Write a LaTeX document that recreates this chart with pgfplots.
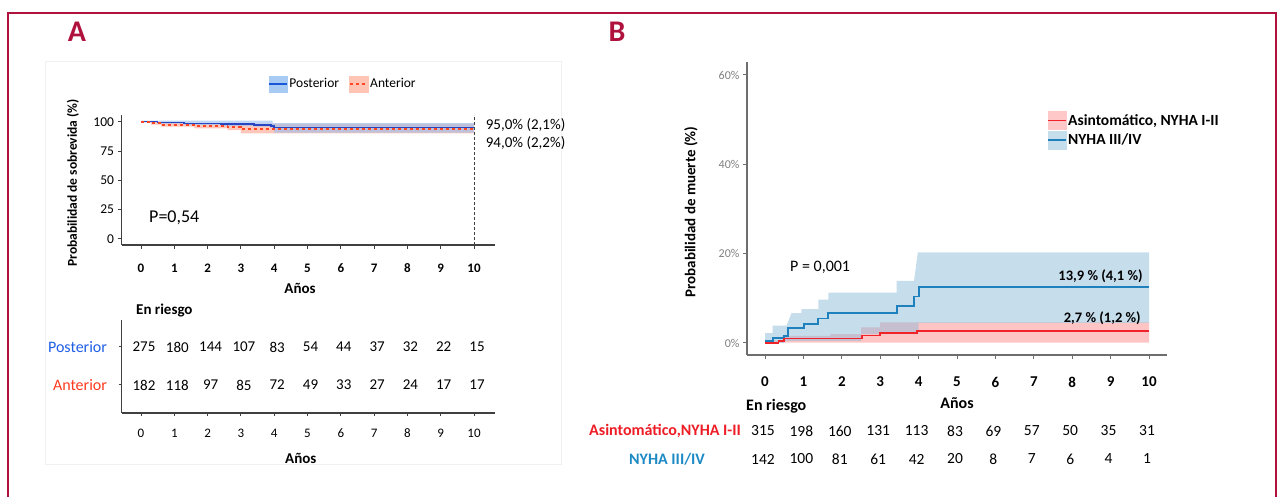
\documentclass[border=0pt]{standalone}
\usepackage{fontspec}
\setmainfont{Carlito}
\usepackage{pgfplots}
\pgfplotsset{compat=1.18}
\definecolor{framecol}{RGB}{176,18,62}
\definecolor{axgray}{RGB}{64,64,64}
\definecolor{Baxgray}{RGB}{110,110,110}
\definecolor{Ablue}{RGB}{40,70,195}
\definecolor{Ablueband}{RGB}{150,190,240}
\definecolor{Ared}{RGB}{255,70,35}
\definecolor{Aredband}{RGB}{255,160,140}
\definecolor{legAblueband}{RGB}{168,203,243}
\definecolor{legAblue}{RGB}{26,86,216}
\definecolor{legAredband}{RGB}{255,196,180}
\definecolor{Postlab}{RGB}{30,95,230}
\definecolor{Antlab}{RGB}{255,58,31}
\definecolor{Bblue}{RGB}{31,128,190}
\definecolor{Bblueband}{RGB}{141,187,217}
\definecolor{Bred}{RGB}{240,35,42}
\definecolor{Bredband}{RGB}{255,150,150}
\definecolor{legBredband}{RGB}{255,200,200}
\definecolor{legBblueband}{RGB}{198,221,236}
\definecolor{Bredlab}{RGB}{238,28,37}
\definecolor{Bbluelab}{RGB}{28,138,196}
\begin{document}
\begin{tikzpicture}
\useasboundingbox (0pt,0pt) rectangle (1279pt,497pt);
\draw[black!6, line width=1pt] (45pt,435pt) rectangle (561pt,32pt);
\draw[framecol, line width=2.5pt] (8pt,-10pt) -- (8pt,484pt) -- (1276pt,484pt) -- (1276pt,-10pt);
\node[font=\fontsize{30}{32}\selectfont\bfseries, text=framecol] at (77pt,465pt) {A};
\node[font=\fontsize{30}{32}\selectfont\bfseries, text=framecol] at (617pt,465pt) {B};

% ---------------- Panel A : survival curves
\begin{axis}[
  at={(121.5pt,252pt)}, anchor=south west, scale only axis,
  width=373.5pt, height=130pt,
  xmin=-0.5856, xmax=10.63, ymin=-5.115, ymax=105.7,
  axis lines*=left, axis line style={axgray, line width=1.2pt},
  tick align=outside, major tick length=4pt, tick style={axgray, line width=1pt},
  xtick={0,...,10}, ytick={0,25,50,75,100},
  /pgf/number format/assume math mode=true,
  xticklabel style={font=\fontsize{13}{15}\selectfont\bfseries, anchor=center, yshift=-19pt},
  yticklabel style={font=\fontsize{13.5}{15}\selectfont},
  xlabel={Años},
  xlabel style={at={(axis description cs:0.478,-0.331)}, anchor=center, font=\fontsize{15}{17}\selectfont\bfseries},
  ylabel={Probabilidad de sobrevida (\%)},
  ylabel style={at={(axis description cs:-0.13,0.477)}, anchor=center, font=\fontsize{13.5}{15}\selectfont\bfseries},
  clip=false,
  legend columns=2,
  legend style={draw=none, fill=none, at={(axis description cs:0.392,1.238)}, anchor=west,
    font=\fontsize{13.5}{15}\selectfont, inner sep=0pt, nodes={inner sep=1.5pt},
    /tikz/every even column/.append style={column sep=8pt}},
]
\addlegendimage{legend image code/.code={\fill[legAblueband] (0pt,-8pt) rectangle (18pt,8pt); \draw[legAblue, line width=1.8pt] (0pt,0pt) -- (18pt,0pt);}}
\addlegendentry{Posterior}
\addlegendimage{legend image code/.code={\fill[legAredband] (0pt,-8pt) rectangle (19pt,8pt); \draw[Ared, line width=1.8pt, dash pattern=on 3pt off 3pt] (1pt,0pt) -- (19pt,0pt);}}
\addlegendentry{Anterior}
% red band (Anterior)
\addplot[draw=none, fill=Aredband, fill opacity=0.6, forget plot] coordinates {
 (0,100) (0.3,100) (0.3,99.6) (0.6,99.6) (0.6,99) (1.6,99) (1.6,98.6) (2.6,98.6) (2.6,98.4) (3.0,98.4) (3.0,98.3) (10,98.3)
 (10,90) (3.0,90) (3.0,92.9) (2.6,92.9) (2.6,94.3) (1.6,94.3) (1.6,95.8) (0.6,95.8) (0.6,97.5) (0.3,97.5) (0.3,99.5) (0,99.5)} -- cycle;
% blue band (Posterior)
\addplot[draw=none, fill=Ablueband, fill opacity=0.6, forget plot] coordinates {
 (0,100.8) (3.95,100.8) (3.95,98.8) (10,98.8)
 (10,90.7) (4.0,90.7) (4.0,94.5) (3.9,94.5) (3.9,95.8) (3.4,95.8) (3.4,96.5) (2.4,96.5) (2.4,97.3) (1.3,97.3) (1.3,98.3) (0.5,98.3) (0.5,99.4) (0,99.4)} -- cycle;
\addplot[Ablue, line width=1.6pt, const plot, forget plot] coordinates {
 (0,100) (0.5,99.4) (1.3,98.6) (2.4,98.0) (3.4,97.4) (3.9,96.3) (4.0,95.0) (10,95.0)};
\addplot[Ared, line width=1.8pt, const plot, dash pattern=on 3pt off 3pt, forget plot] coordinates {
 (0,100) (0.3,98.8) (0.6,97.2) (1.6,96.6) (2.6,95.8) (3.0,94.0) (10,94.0)};
\addplot[axgray, line width=0.8pt, dash pattern=on 3pt off 2pt, forget plot] coordinates {(10,-5.115) (10,105.7)};
\node[anchor=west, font=\fontsize{15}{17}\selectfont] at (axis cs:10.25,97.2) {95,0\% (2,1\%)};
\node[anchor=west, font=\fontsize{15}{17}\selectfont] at (axis cs:10.25,81.8) {94,0\% (2,2\%)};
\node[anchor=west, inner sep=0pt, font=\fontsize{18}{20}\selectfont] at (axis cs:0.24,17.9) {P=0,54};
\end{axis}

% ---------------- Panel A : risk table
\begin{axis}[
  at={(121.5pt,84pt)}, anchor=south west, scale only axis,
  width=373.5pt, height=93pt,
  xmin=-0.5856, xmax=10.63, ymin=0, ymax=93,
  axis lines*=left, axis line style={axgray, line width=1.2pt},
  tick align=outside, major tick length=3pt, tick style={axgray, line width=1pt},
  xtick={0,...,10}, ytick={28,66}, yticklabels={\textcolor{Antlab}{Anterior},\textcolor{Postlab}{Posterior}},
  /pgf/number format/assume math mode=true,
  xticklabel style={font=\fontsize{13}{15}\selectfont, anchor=center, yshift=-17pt},
  yticklabel style={font=\fontsize{16}{18}\selectfont, xshift=-8pt},
  xlabel={Años},
  xlabel style={at={(axis description cs:0.48,-0.484)}, anchor=center, font=\fontsize{15}{17}\selectfont\bfseries},
  clip=false,
  every node near coord/.append style={font=\fontsize{15}{17}\selectfont, anchor=center, xshift=3pt, inner sep=0pt},
]
\addplot[draw=none, mark=none, nodes near coords, point meta=explicit symbolic] table[meta=n] {
x y n
0 66 275
1 66 180
2 66 144
3 66 107
4 66 83
5 66 54
6 66 44
7 66 37
8 66 32
9 66 22
10 66 15
};
\addplot[draw=none, mark=none, nodes near coords, point meta=explicit symbolic] table[meta=n] {
x y n
0 28 182
1 28 118
2 28 97
3 28 85
4 28 72
5 28 49
6 28 33
7 28 27
8 28 24
9 28 17
10 28 17
};
\node[anchor=west, inner sep=0pt, font=\fontsize{15}{17}\selectfont\bfseries] at (axis cs:-0.15,102) {En riesgo};
\end{axis}

% ---------------- Panel B : mortality curves
\begin{axis}[
  at={(747pt,142pt)}, anchor=south west, scale only axis,
  width=420pt, height=293pt,
  xmin=-0.469, xmax=10.469, ymin=-2.687, ymax=62.91,
  axis lines*=left, axis line style={Baxgray, line width=1.6pt},
  tick align=outside, major tick length=4pt, tick style={Baxgray, line width=1pt},
  xtick={0,...,10}, ytick={0,20,40,60}, yticklabels={0\%,20\%,40\%,60\%},
  /pgf/number format/assume math mode=true,
  xticklabel style={font=\fontsize{15}{17}\selectfont\bfseries, anchor=center, yshift=-23pt},
  yticklabel style={font=\fontsize{12}{14}\selectfont, text=black!50},
  xlabel={Años},
  xlabel style={at={(axis description cs:0.5,-0.164)}, anchor=center, font=\fontsize{16}{18}\selectfont\bfseries},
  ylabel={Probabilidad de muerte (\%)},
  ylabel style={at={(axis description cs:-0.1333,0.488)}, anchor=center, font=\fontsize{15}{17}\selectfont\bfseries},
  clip=false,
  legend columns=1, legend cell align=left,
  legend style={draw=none, fill=none, at={(axis description cs:0.714,0.833)}, anchor=north west,
    font=\fontsize{15.5}{17}\selectfont\bfseries, inner sep=0pt, nodes={inner sep=1.5pt}, row sep=1pt},
]
\addlegendimage{legend image code/.code={\fill[legBredband] (0pt,-9pt) rectangle (18pt,9pt); \draw[Bred, line width=1.6pt] (0pt,0pt) -- (18pt,0pt);}}
\addlegendentry{Asintomático, NYHA I-II}
\addlegendimage{legend image code/.code={\fill[legBblueband] (0pt,-9pt) rectangle (18pt,9pt); \draw[Bblue, line width=1.6pt] (0pt,0pt) -- (18pt,0pt);}}
\addlegendentry{NYHA III/IV}
\addplot[draw=none, fill=Bredband, fill opacity=0.55, forget plot] coordinates {
 (0,0.6) (0.45,0.6) (0.45,1.6) (1.7,1.6) (1.7,2.0) (2.5,2.0) (2.5,3.5) (3.0,3.5) (3.0,4.6) (10,4.6)
 (10,0.1) (0.4,0.1) (0.4,0) (0,0)} -- cycle;
\addplot[draw=none, fill=Bblueband, fill opacity=0.5, forget plot] coordinates {
 (0,2.2) (0.2,2.2) (0.2,3.9) (0.56,3.9) (0.69,6.7) (0.95,6.7) (0.95,7.6) (1.39,7.6) (1.39,9.7) (1.65,9.7) (1.65,11.3) (3.43,11.3) (3.43,13.9) (3.88,13.9) (3.98,20.3) (10,20.3)
 (10,4.5) (4.0,4.5) (4.0,2.0) (2.5,2.0) (2.5,0.5) (0.5,0.5) (0.5,0) (0,0)} -- cycle;
\addplot[Bblue, line width=1.8pt, const plot, forget plot] coordinates {
 (0,0.4) (0.2,1.2) (0.5,1.6) (0.6,3.3) (1.02,4.3) (1.39,5.5) (1.65,6.8) (3.43,8.3) (3.88,10.4) (4.02,12.5) (10,12.5)};
\addplot[Bred, line width=1.8pt, const plot, forget plot] coordinates {
 (0,0) (0.35,0.5) (0.5,1.0) (2.52,1.7) (3.0,2.2) (3.95,2.7) (10,2.7)};
\node[anchor=west, inner sep=0pt, font=\fontsize{16}{18}\selectfont] at (axis cs:0.65,17.0) {P = 0,001};
\node[anchor=east, inner sep=0pt, font=\fontsize{14.5}{16}\selectfont\bfseries] at (axis cs:9.84,14.85) {13,9 \% (4,1 \%)};
\node[anchor=east, inner sep=0pt, font=\fontsize{14.5}{16}\selectfont\bfseries] at (axis cs:9.79,5.6) {2,7 \% (1,2 \%)};
\end{axis}

% ---------------- Panel B : risk table
\begin{axis}[
  at={(747pt,27pt)}, anchor=south west, scale only axis,
  width=420pt, height=80pt,
  xmin=-0.469, xmax=10.469, ymin=0, ymax=80,
  hide axis, clip=false,
  every node near coord/.append style={font=\fontsize{15.5}{17}\selectfont, anchor=center, xshift=-2pt, inner sep=0pt},
]
\addplot[draw=none, mark=none, nodes near coords, point meta=explicit symbolic] table[meta=n] {
x y n
0 39 315
1 39 198
2 39 160
3 39 131
4 39 113
5 39 83
6 39 69
7 39 57
8 39 50
9 39 35
10 39 31
};
\addplot[draw=none, mark=none, nodes near coords, point meta=explicit symbolic] table[meta=n] {
x y n
0 11 142
1 11 100
2 11 81
3 11 61
4 11 42
5 11 20
6 11 8
7 11 7
8 11 6
9 11 4
10 11 1
};
\node[anchor=west, inner sep=0pt, font=\fontsize{16}{18}\selectfont\bfseries] at (axis cs:-0.495,64) {En riesgo};
\node[anchor=east, inner sep=0pt, font=\fontsize{16}{18}\selectfont\bfseries, text=Bredlab] at (axis cs:-0.625,39) {Asintomático,NYHA I-II};
\node[anchor=center, inner sep=0pt, font=\fontsize{16}{18}\selectfont\bfseries, text=Bbluelab] at (axis cs:-2.552,11) {NYHA III/IV};
\end{axis}
\end{tikzpicture}
\end{document}
